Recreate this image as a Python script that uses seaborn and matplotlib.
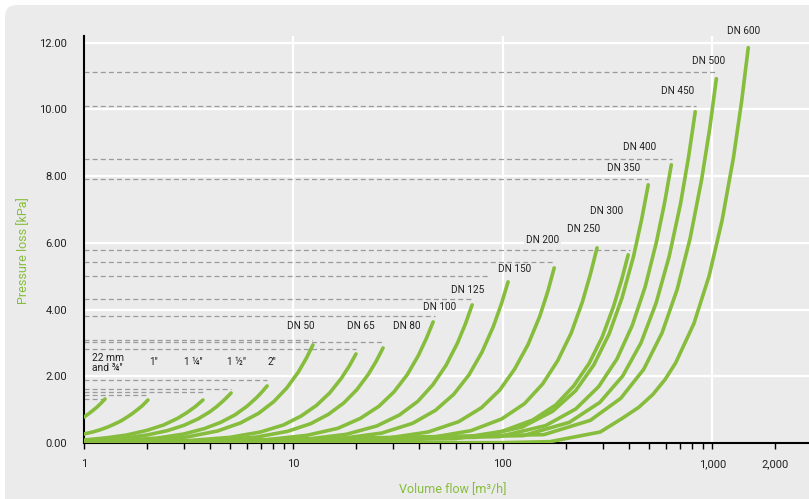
import numpy as np
import pandas as pd
import matplotlib.pyplot as plt
import seaborn as sns
from matplotlib.patches import FancyBboxPatch
from matplotlib.ticker import FixedLocator, NullFormatter

# Pipe sizes (curve names, small to large)
pipes = ['22 mm', '1"', '1 ¼"', '1 ½"', '2"', 'DN 50', 'DN 65', 'DN 80', 'DN 100',
         'DN 125', 'DN 150', 'DN 200', 'DN 250', 'DN 300', 'DN 350', 'DN 400',
         'DN 450', 'DN 500', 'DN 600']

# Volume flow [m3/h] and pressure loss [kPa], one pair per pipe
q_22mm = [1.0, 1.05, 1.1, 1.15, 1.2, 1.26]
p_22mm = [0.78, 0.87, 0.97, 1.07, 1.18, 1.32]
q_1in = [1.0, 1.1, 1.2, 1.3, 1.4, 1.5, 1.6, 1.7, 1.8, 1.9, 2.02]
p_1in = [0.27, 0.33, 0.40, 0.48, 0.57, 0.66, 0.77, 0.88, 1.00, 1.12, 1.29]
q_1qin = [1.0, 1.3, 1.6, 2.0, 2.4, 2.8, 3.1, 3.4, 3.7]
p_1qin = [0.09, 0.16, 0.24, 0.38, 0.54, 0.74, 0.91, 1.09, 1.29]
q_1hin = [1.0, 1.5, 2.0, 2.5, 3.0, 3.5, 4.0, 4.3, 4.6, 4.85, 5.04]
p_1hin = [0.06, 0.13, 0.24, 0.37, 0.53, 0.72, 0.94, 1.09, 1.25, 1.39, 1.50]
q_2in = [1.0, 1.5, 2.25, 3.0, 3.75, 4.5, 5.25, 6.0, 6.7, 7.1, 7.49]
p_2in = [0.03, 0.07, 0.15, 0.27, 0.43, 0.62, 0.84, 1.10, 1.37, 1.54, 1.71]
q_dn50 = [1, 1.86, 3.1, 4.34, 5.58, 6.82, 8.06, 9.3, 10.54, 11.53, 12.4]
p_dn50 = [0.02, 0.07, 0.18, 0.36, 0.60, 0.89, 1.24, 1.65, 2.12, 2.54, 2.94]
q_dn65 = [1, 2.99, 4.98, 6.97, 8.96, 10.9, 12.9, 14.9, 16.9, 18.5, 19.9]
p_dn65 = [0.01, 0.06, 0.17, 0.33, 0.54, 0.81, 1.13, 1.50, 1.93, 2.31, 2.67]
q_dn80 = [1, 4.02, 6.7, 9.38, 12.1, 14.7, 17.4, 20.1, 22.8, 24.9, 26.8]
p_dn80 = [0.0, 0.06, 0.18, 0.35, 0.58, 0.86, 1.20, 1.60, 2.06, 2.46, 2.85]
q_dn100 = [1, 7.0, 11.6, 16.3, 20.9, 25.6, 30.2, 34.9, 39.5, 43.2, 46.5]
p_dn100 = [0.0, 0.08, 0.23, 0.44, 0.74, 1.10, 1.53, 2.04, 2.62, 3.14, 3.63]
q_dn125 = [1, 10.7, 17.9, 25.0, 32.1, 39.3, 46.4, 53.6, 60.7, 66.4, 71.4]
p_dn125 = [0.0, 0.09, 0.26, 0.51, 0.84, 1.25, 1.75, 2.33, 2.99, 3.58, 4.14]
q_dn150 = [1, 15.9, 26.5, 37.1, 47.7, 58.3, 68.9, 79.5, 90.1, 98.6, 106]
p_dn150 = [0.0, 0.11, 0.30, 0.59, 0.98, 1.46, 2.04, 2.72, 3.49, 4.18, 4.83]
q_dn200 = [1, 26.4, 44, 61.6, 79.2, 96.8, 114, 132, 150, 164, 176]
p_dn200 = [0.0, 0.12, 0.33, 0.64, 1.06, 1.59, 2.22, 2.95, 3.79, 4.54, 5.25]
q_dn250 = [1, 42.3, 70.5, 98.7, 127, 155, 183, 212, 240, 262, 282]
p_dn250 = [0.0, 0.13, 0.37, 0.72, 1.18, 1.77, 2.47, 3.29, 4.23, 5.06, 5.85]
q_dn300 = [1, 59.6, 99.3, 139, 179, 218, 258, 298, 337, 369, 397]
p_dn300 = [0.0, 0.13, 0.35, 0.69, 1.14, 1.71, 2.38, 3.17, 4.07, 4.88, 5.64]
q_dn350 = [1, 74.3, 124, 173, 223, 272, 322, 371, 421, 460, 495]
p_dn350 = [0.0, 0.17, 0.48, 0.95, 1.57, 2.34, 3.27, 4.35, 5.59, 6.69, 7.74]
q_dn400 = [1, 95.7, 160, 223, 287, 351, 415, 479, 542, 593, 638]
p_dn400 = [0.0, 0.19, 0.52, 1.02, 1.69, 2.52, 3.52, 4.69, 6.03, 7.21, 8.34]
q_dn450 = [1, 125, 208, 291, 374, 457, 540, 623, 706, 772, 830]
p_dn450 = [0.0, 0.22, 0.62, 1.22, 2.01, 3.00, 4.20, 5.59, 7.17, 8.59, 9.93]
q_dn500 = [1, 157, 262, 366, 471, 576, 681, 785, 890, 974, 1047]
p_dn500 = [0.0, 0.25, 0.68, 1.34, 2.21, 3.30, 4.61, 6.14, 7.89, 9.44, 10.92]
q_dn600 = [1, 100, 168, 292, 372, 446, 520, 595, 669, 818, 967, 1115, 1264, 1383, 1487]
p_dn600 = [0.0, 0.01, 0.04, 0.33, 0.74, 1.07, 1.45, 1.90, 2.40, 3.58, 5.01, 6.67, 8.56, 10.25, 11.85]

flows = [q_22mm, q_1in, q_1qin, q_1hin, q_2in, q_dn50, q_dn65, q_dn80, q_dn100, q_dn125,
         q_dn150, q_dn200, q_dn250, q_dn300, q_dn350, q_dn400, q_dn450, q_dn500, q_dn600]
losses = [p_22mm, p_1in, p_1qin, p_1hin, p_2in, p_dn50, p_dn65, p_dn80, p_dn100, p_dn125,
          p_dn150, p_dn200, p_dn250, p_dn300, p_dn350, p_dn400, p_dn450, p_dn500, p_dn600]

# Dashed reference lines: level [kPa] and flow where they stop
ref_levels = [11.13, 10.11, 8.52, 7.92, 5.79, 5.43, 5.01, 4.33, 3.81, 3.09, 3.02, 2.82,
              1.89, 1.61, 1.53, 1.45, 1.32]
ref_ends = [1047, 839, 645, 495, 406, 178, 87, 71.4, 47.5, 12.3, 26.8, 19.9,
            7.49, 5.04, 3.70, 2.0, 1.26]

# Label placement (flow, pressure) for the curve names
label_x = [1.092, 2.14, 3.32, 5.32, 7.91, 10.8, 21.1, 34.8, 50.0, 67.6, 114, 155, 244, 314,
           379, 449, 687, 958, 1413]
label_y = [2.40, 2.43, 2.43, 2.43, 2.43, 3.52, 3.52, 3.52, 4.09, 4.59, 5.22, 6.09, 6.41, 6.94,
           8.24, 8.87, 10.54, 11.46, 12.36]
label_text = ['22 mm\nand ¾"'] + pipes[1:]

x_major = [1, 10, 100, 1000, 2000]
x_major_labels = ['1', '10', '100', '1,000', '2,000']
x_minor = [2, 3, 4, 5, 6, 7, 8, 9, 20, 30, 40, 50, 60, 70, 80, 90,
           200, 300, 400, 500, 600, 700, 800, 900]
y_ticks = [0, 2, 4, 6, 8, 10, 12]

green = '#86bd3c'
bg = '#ebebeb'

rows = []
for name, q, p in zip(pipes, flows, losses):
    for qi, pi in zip(q, p):
        rows.append({'pipe': name, 'flow': qi, 'loss': pi})
df = pd.DataFrame(rows)

sns.set_style('white')
plt.rcParams['font.family'] = ['Roboto', 'DejaVu Sans']

fig = plt.figure(figsize=(8.09, 4.99), dpi=100)
fig.patch.set_facecolor('white')
# rounded grey panel behind the chart
panel = FancyBboxPatch((0.05, -0.3), 8.4, 4.99 - 0.05 + 0.3,
                       boxstyle='round,pad=0,rounding_size=0.12',
                       transform=fig.dpi_scale_trans, facecolor=bg,
                       edgecolor='none', zorder=-10)
fig.patches.append(panel)

ax = fig.add_axes([84 / 809, 56 / 499, 725 / 809, 407 / 499])
ax.set_zorder(1)
ax.set_facecolor(bg)
ax.set_xscale('log')
ax.set_xlim(1, 2900)
ax.set_ylim(0, 12.2)

# white grid
for yv in y_ticks[1:]:
    ax.axhline(yv, color='white', lw=1.6, zorder=0.5)
for xv in [10, 100, 1000]:
    ax.axvline(xv, color='white', lw=1.6, zorder=0.5)

ax.hlines(ref_levels, 1, ref_ends, colors='#9b9b9b', linestyles=(0, (4, 2.5)), lw=0.9, zorder=1)

sns.lineplot(data=df, x='flow', y='loss', hue='pipe', units='pipe', estimator=None,
             sort=False, palette={p: green for p in pipes}, legend=False, lw=2.6, ax=ax,
             zorder=3)

for i, (tx, ty, t) in enumerate(zip(label_x, label_y, label_text)):
    if i == 0:
        ax.text(tx, ty, t, ha='left', va='center', fontsize=7.4, color='#222222',
                linespacing=1.05, zorder=4)
    elif t == 'DN 200':
        ax.text(tx, ty, t, ha='center', va='center', fontsize=7.2, color='#222222', zorder=4,
                bbox=dict(facecolor=bg, edgecolor='none', pad=1.5))
    else:
        ax.text(tx, ty, t, ha='center', va='center', fontsize=7.2, color='#222222', zorder=4)

ax.set_xticks(x_major)
ax.set_xticklabels(x_major_labels)
ax.xaxis.set_minor_locator(FixedLocator(x_minor))
ax.xaxis.set_minor_formatter(NullFormatter())
ax.set_yticks(y_ticks)
ax.set_yticklabels([f'{v:.2f}' for v in y_ticks])

ax.tick_params(axis='x', which='both', bottom=True, direction='out', color='black', width=1)
ax.tick_params(axis='x', which='major', length=4.5, pad=7, labelsize=8, labelcolor='#222222')
ax.tick_params(axis='x', which='minor', length=4)
ax.tick_params(axis='y', left=False, length=0, pad=12, labelsize=8, labelcolor='#222222')

for s in ['top', 'right']:
    ax.spines[s].set_visible(False)
for s in ['left', 'bottom']:
    ax.spines[s].set_color('black')
    ax.spines[s].set_linewidth(1.5)

ax.set_xlabel('Volume flow [m³/h]', color=green, fontsize=9)
ax.xaxis.set_label_coords(0.509, -0.115)
ax.xaxis.label.set_va('center')
ax.set_ylabel('Pressure loss [kPa]', color=green, fontsize=9)
ax.yaxis.set_label_coords(-0.084, 0.474)
ax.yaxis.label.set_va('center')

fig.savefig('out.png', dpi=100, facecolor=fig.get_facecolor())
